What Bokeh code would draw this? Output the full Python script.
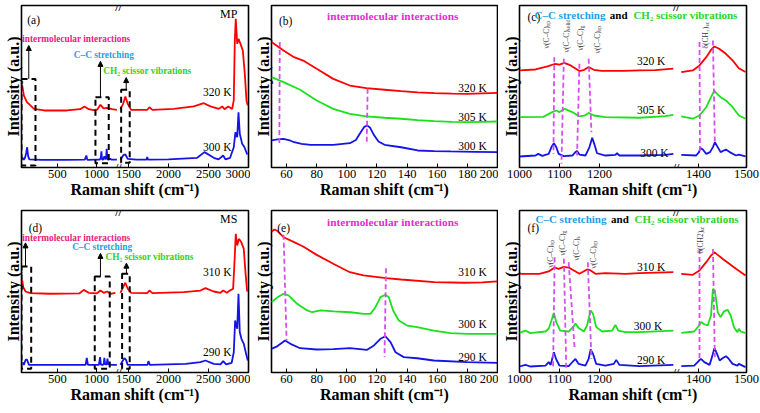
import numpy as np
from math import pi
from bokeh.plotting import figure
from bokeh.models import Range1d, FixedTicker, Label, Arrow, NormalHead
from bokeh.layouts import row, column
from bokeh.core.properties import value
from bokeh.embed import file_html
from bokeh.resources import INLINE

# ---------------- data (Raman shift in cm-1, intensity in a.u.) ----------------
# (a) MP full range
A_320_X = [50, 70, 110, 200, 330, 620, 790, 845, 900, 960, 1010, 1050, 1090, 1135, 1200, 1260,
           1400, 1434, 1462, 1491, 1534, 1734, 1762, 1800, 2066, 2316, 2441, 2525, 2629, 2671, 2700,
           2746, 2796, 2816, 2829, 2841, 2859, 2875, 2900, 2929, 2954, 2975, 2991]
A_320_Y = [50.6, 44.4, 40.3, 36.2, 35.2, 35.2, 36.0, 37.6, 36.0, 35.4, 35.8, 38.7, 36.5, 36.8, 36.0, 35.6,
           36.2, 39.3, 43.8, 39.3, 35.6, 35.6, 37.2, 35.6, 36.2, 37.7, 39.7, 37.7, 36.2, 37.7, 36.0,
           37.7, 36.2, 41.4, 78.4, 91.8, 76.3, 79.4, 76.3, 72.2, 57.8, 41.4, 38.3]
A_300_X = [50, 69, 85, 100, 112, 125, 140, 300, 600, 850, 870, 880, 890, 1000, 1040, 1055, 1062, 1070,
           1085, 1100, 1110, 1122, 1130, 1138, 1160, 1175, 1190, 1260,
           1400, 1434, 1448, 1462, 1491, 1600, 1725, 1735, 1745, 2000, 2359, 2450, 2566, 2625, 2684,
           2712, 2770, 2816, 2837, 2859, 2875, 2891, 2921, 2950, 2984]
A_300_Y = [6.2, 4.7, 6, 9, 12.5, 7, 5, 4.7, 4.7, 4.9, 7.4, 5, 4.7, 4.8, 4.8, 6, 10, 5,
           4.8, 7, 5, 6, 11.5, 5, 4.8, 5.5, 4.8, 4.8,
           4.7, 7.4, 8, 8, 5.3, 4.8, 4.8, 6.5, 4.8, 5, 6, 9.5, 6, 5, 7.4,
           5, 6, 12.5, 21.8, 18.7, 34.1, 20.8, 14.6, 12.5, 8]

# (b) MP low frequency
B_320_X = [50, 58, 65, 71, 80, 91, 102, 113, 125, 136, 147, 158, 170, 180, 190, 200]
B_320_Y = [77.4, 72.2, 68.1, 66, 60.9, 54.7, 50.6, 49, 48, 47.1, 46.4, 45.9, 45.6, 45.5, 45.8, 46.1]
B_305_X = [50, 58, 69, 80, 91, 102, 113, 125, 136, 147, 158, 170, 180, 190, 200]
B_305_Y = [55.8, 52.7, 48, 41.4, 36.2, 33.1, 31.5, 30.7, 30.1, 29.3, 28.6, 28.2, 28, 28.2, 28.4]
B_300_X = [50, 54, 58, 62, 65, 70, 76, 91, 102, 106, 109, 111.5, 113.5, 115.5, 118, 121, 125, 136,
           147, 158, 169, 185, 200]
B_300_Y = [16.7, 17.3, 17.7, 16.8, 15.6, 14.6, 14, 14, 15, 17, 21.5, 25, 26, 24.5, 20, 16, 14, 12.5,
           10.5, 10.1, 9.9, 9.7, 9.5]

# (c) MP 1000-1500 (lo = before the break, hi = after the break)
C_320_LO_X = [1000, 1040, 1070, 1088, 1100, 1112, 1128, 1150, 1162, 1173, 1186, 1205, 1260, 1300, 1340, 1385]
C_320_LO_Y = [59.9, 60.5, 62.4, 63.9, 63.5, 64.6, 63, 59.5, 60.3, 62, 60.3, 59.7, 59.7, 59.9, 60.1, 61]
C_320_HI_X = [1364, 1388, 1402, 1416, 1426, 1433, 1443, 1457, 1471, 1484, 1498]
C_320_HI_Y = [58.9, 59.9, 63, 68.1, 72.6, 74.7, 73.3, 70.2, 66.1, 61.3, 58.9]
C_305_LO_X = [1000, 1060, 1082, 1092, 1100, 1113, 1132, 1150, 1162, 1173, 1186, 1215, 1300, 1365, 1385]
C_305_LO_Y = [31.1, 31.3, 34.2, 35.2, 34.2, 36.2, 34.2, 31.5, 32, 33.7, 32.1, 31.1, 30.7, 31.7, 32.5]
C_305_HI_X = [1364, 1388, 1402, 1416, 1426, 1433, 1437, 1446, 1457, 1471, 1484, 1498]
C_305_HI_Y = [31.5, 30.1, 32.1, 37.2, 43.4, 47.5, 45.9, 43.4, 41.4, 37.2, 32.1, 30.1]
C_300_LO_X = [1000, 1040, 1047, 1057, 1073, 1080, 1086, 1092, 1098, 1111, 1132, 1140, 1144, 1150, 1165,
              1175, 1182, 1187, 1194, 1215, 1240, 1244, 1250, 1300, 1365, 1385]
C_300_LO_Y = [6.8, 7.4, 8.4, 7.2, 8.4, 12.6, 15, 12.6, 8.4, 7, 7.4, 9.5, 10.1, 8, 7.4,
              12.6, 18.3, 14.6, 8.8, 7.4, 7.8, 8.8, 7.4, 7.4, 7.8, 8.4]
C_300_HI_X = [1364, 1395, 1401, 1404, 1409, 1416, 1424, 1430, 1434, 1440, 1446, 1457, 1465, 1478, 1484, 1498]
C_300_HI_Y = [7.8, 7.4, 9.5, 12.1, 11.1, 8.4, 9.5, 12.6, 15.6, 12.6, 9.5, 11.1, 9.5, 7.4, 8, 6.8]

# (d) MS full range
D_310_X = [50, 62, 91, 155, 400, 780, 836, 900, 1000, 1050, 1092, 1135, 1177, 1241,
           1400, 1434, 1462, 1491, 1534, 1734, 1762, 1800, 2191, 2400, 2462, 2566, 2650, 2684, 2730,
           2760, 2808, 2829, 2841, 2859, 2880, 2909, 2941, 2962, 2983]
D_310_Y = [56.8, 52.7, 50, 49, 48.6, 48.8, 51, 49.2, 48.8, 50.6, 49.2, 50, 48.6, 49.2,
           49.2, 52.7, 55.4, 51.7, 49.2, 49, 50.6, 49, 49.6, 50.6, 52.1, 50, 49.2, 50.6, 49.2,
           50.4, 51.7, 72.2, 85.6, 78.4, 82.5, 80.5, 76.3, 62, 50]
D_290_X = [50, 69, 95, 110, 135, 400, 860, 875, 890, 1030, 1045, 1055, 1070, 1092, 1100, 1110, 1130,
           1140, 1150, 1200, 1260,
           1400, 1430, 1450, 1470, 1491, 1737, 1750, 1767, 2216, 2400, 2462, 2566, 2650, 2684, 2720,
           2790, 2816, 2833, 2846, 2859, 2875, 2891, 2912, 2941, 2970, 2991]
D_290_Y = [6.4, 4.7, 8, 8, 4.7, 4.7, 4.7, 9, 4.7, 4.7, 9.5, 5, 4.7, 5, 9, 5, 5,
           8.5, 5, 4.7, 4.7,
           4.7, 7.4, 8.8, 7.8, 4.7, 4.7, 7, 4.7, 5.3, 6.4, 7.4, 5.3, 5, 7, 5,
           6, 12.5, 32.1, 29, 27, 48.6, 24.9, 20.8, 17.7, 11.5, 7.4]

# (e) MS low frequency
E_310_X = [50, 52, 54, 58, 65, 71, 80, 91, 102, 111, 126, 136, 158, 178, 190, 200]
E_310_Y = [87, 88.3, 87.3, 83.5, 80.5, 77.8, 72.6, 67.1, 61.9, 59.9, 58.2, 57.4, 55.8, 55.4, 55.6, 56.2]
E_300_X = [50, 54, 58, 61.5, 67, 73.7, 77, 82.6, 91.4, 102.4, 111.3, 115.7, 119, 122.3, 125.6, 127.9,
           130.7, 134.5, 140, 146.7, 157.7, 168.8, 180, 200]
E_300_Y = [43.4, 46.5, 48.6, 47.5, 42.4, 38.3, 37.2, 38.3, 37.7, 37.2, 36.2, 36.2, 40.3, 46.5, 48, 46.5,
           38.3, 32.1, 29, 28, 25.9, 24.3, 23.9, 23.9]
E_290_X = [50, 54, 59, 62.6, 69, 80, 91, 102, 113.5, 118, 122.3, 125.6, 129, 132.3, 137.8, 146.7, 157.7, 180, 200]
E_290_Y = [14.6, 16.3, 19.8, 17.7, 15, 14.2, 14.4, 15, 14, 16.7, 20.8, 22.4, 18.7, 12.5, 9.5, 8.8, 7.4, 6.4, 6]

# (f) MS 1000-1500
F_310_LO_X = [1000, 1050, 1073, 1088, 1098, 1111, 1123, 1136, 1150, 1169, 1178, 1190, 1215, 1265, 1300, 1385]
F_310_LO_Y = [60.9, 60.9, 62.4, 64.8, 64, 65.2, 64.8, 63, 60.9, 63.6, 63, 60.9, 61.3, 60.9, 61.3, 61.9]
F_310_HI_X = [1364, 1388, 1402, 1416, 1426, 1433, 1440, 1450, 1464, 1478, 1498]
F_310_HI_Y = [60.9, 60.3, 63, 68.1, 72.2, 74.3, 72.6, 70.2, 67.1, 64, 59.9]
F_300_LO_X = [1000, 1015, 1027, 1065, 1073, 1080, 1086, 1092, 1102, 1123, 1136, 1140, 1148, 1161, 1169,
              1178, 1184, 1192, 1207, 1232, 1240, 1247, 1265, 1300, 1385]
F_300_LO_Y = [24.5, 25.9, 24.3, 25.3, 27, 32.1, 36.8, 31, 25.9, 25.3, 28.6, 30.2, 27.4, 25.3, 29,
              38.3, 36.2, 28, 25.3, 25.9, 29.4, 25.9, 24.9, 24.9, 25.9]
F_300_HI_X = [1364, 1391, 1401, 1405, 1412, 1419, 1426, 1430, 1434, 1440, 1446, 1453, 1461, 1467, 1474,
              1481, 1484, 1488, 1498]
F_300_HI_Y = [24.5, 25.3, 29, 31.1, 29.8, 29, 35.2, 51.6, 50.6, 37.2, 34.2, 37.7, 38.7, 35.2, 28,
              24.9, 27, 25.3, 24.3]
F_290_LO_X = [1000, 1015, 1027, 1065, 1073, 1078, 1086, 1092, 1100, 1123, 1136, 1140, 1148, 1165, 1173,
              1178, 1184, 1192, 1215, 1236, 1242, 1250, 1300, 1385]
F_290_LO_Y = [3.7, 4.7, 3.7, 4.3, 6.4, 4.7, 12.5, 8, 4.3, 3.9, 7.4, 8.4, 5.3, 4.3, 8.4,
              14.2, 11.5, 5.3, 4.3, 5.3, 7.8, 4.7, 3.9, 4.7]
F_290_HI_X = [1364, 1391, 1401, 1405, 1412, 1423, 1428, 1433, 1437, 1444, 1450, 1457, 1462, 1471, 1481, 1484, 1498]
F_290_HI_Y = [3.9, 4.3, 7.4, 8.4, 6.4, 4.7, 9.5, 15, 12.6, 7.4, 8.8, 10.1, 8.8, 5.3, 4.3, 5.3, 3.3]

# tick labels
FULL_TICKS = [500, 1000, 1500, 2000, 2500, 3000]
LOW_TICKS = [60, 80, 100, 120, 140, 160, 180, 200]
ZOOM_TICKS = [1000, 1100, 1200, 1400, 1500]

# marker lines (x0, y0, x1, y1)
B_MARKS = [(55.5, 77.4, 55.2, 14.6), (113.8, 48.6, 113.2, 14.2)]
E_MARKS = [(58, 85, 60, 19.8), (126, 64.4, 125, 9.5)]
C_MARKS = [(1087, 68.1, 1085, 8.4), (1111, 67.1, 1105, 2.3), (1150, 64, 1144, 7.4),
           (1173, 67.1, 1180, 21.8), (1402, 77.4, 1403, 9.5), (1430, 78.4, 1434, 15.6)]
F_MARKS = [(1088, 71.2, 1084, 3.3), (1111, 70.2, 1117, 2.3), (1123, 68.1, 1138, 14.6),
           (1171, 68.1, 1180, 8.4), (1402, 76.3, 1402, 7.4), (1430, 76.3, 1434, 9.5)]

# vibrational band labels (main, subscript, x, y)
C_BANDS = [("ν(C–C)", "op", 1067.5, 73.5), ("ν(C–C)", "solid", 1117.5, 71), ("ν(C–C)", "g", 1152.5, 72.2),
           ("ν(C–C)", "op", 1195, 70.4), ("δ(CH₂)", "sc", 1413.5, 73.5)]
F_BANDS = [("ν(C–C)", "op", 1077.5, 64.8), ("ν(C–C)", "g", 1107.5, 72.2), ("ν(C–C)", "s", 1142.5, 69.1),
           ("ν(C–C)", "op", 1185, 64.2), ("δ(CH2)", "sc", 1404, 73.5)]

# region boxes (left, right, bottom, top) and arrows (x, y0, y1) in panels (a),(d)
A_BOX_L, A_BOX_R, A_BOX_B, A_BOX_T = [40, 986, 1409], [219, 1156, 1516], [1.2, 2.7, 3], [54.7, 43.4, 48]
D_BOX_L, D_BOX_R, D_BOX_B, D_BOX_T = [40, 977, 1421], [164, 1169, 1516], [2.3, 2.3, 2.3], [65.4, 59.3, 60.9]
A_ARROWS = [(133, 54.7, 75.3), (1050, 43.4, 65.5), (1472, 48, 55.5)]
D_ARROWS = [(91, 65.4, 80.0), (1050, 59.3, 73.5), (1475, 60.9, 67.5)]

# ---------------- styles ----------------
RED, GREEN, BLUE = "#FF0000", "#1BE01B", "#1414E6"
MAG = "#D84CF2"
PINK = "#EC1A7E"
VIOLET = "#E52BD6"
SKY = "#1E9FE6"
LIME = "#2AD42A"
GRAY = "#3A3A3A"
SERIF = "Liberation Serif"
LW = 1.8


def u_full(x):
    x = np.asarray(x, dtype=float)
    return np.where(x <= 1300, x, 1280 + (x - 1375) * 1.024)


def u_hi(x):
    return 1400 + (np.asarray(x, dtype=float) - 1360) * 1.2


def u_zoom(x):
    x = np.asarray(x, dtype=float)
    return np.where(x >= 1390, 1400 + (x - 1360) * 1.2, x)


def u_id(x):
    return np.asarray(x, dtype=float)


def make_fig(w, h, xr, bb, rb, ticks, fmap):
    p = figure(width=w, height=h, x_range=Range1d(*xr), y_range=Range1d(0, 100),
               output_backend="svg", toolbar_location=None, title=None,
               min_border_left=21, min_border_right=rb, min_border_top=5, min_border_bottom=bb)
    p.xgrid.visible = False
    p.ygrid.visible = False
    p.background_fill_color = "white"
    p.border_fill_color = "white"
    p.outline_line_color = "black"
    p.outline_line_width = 1.6
    p.outline_line_alpha = 1.0
    p.xaxis.axis_label = "Raman shift (cm⁻¹)"
    p.yaxis.axis_label = "Intensity (a.u.)"
    for ax in (p.xaxis[0], p.yaxis[0]):
        ax.axis_label_text_font = SERIF
        ax.axis_label_text_font_style = "bold"
        ax.axis_label_text_font_size = "16px"
        ax.axis_label_text_color = "black"
        ax.axis_label_standoff = 0
        ax.axis_line_color = None
        ax.minor_tick_line_color = None
    p.yaxis.ticker = FixedTicker(ticks=[])
    p.yaxis.major_tick_line_color = None
    pos = [float(fmap(t)) for t in ticks]
    p.xaxis.ticker = FixedTicker(ticks=pos, minor_ticks=[])
    p.xaxis.major_label_overrides = {v: str(t) for v, t in zip(pos, ticks)}
    p.xaxis.major_label_text_font = SERIF
    p.xaxis.major_label_text_font_size = "12.5px"
    p.xaxis.major_label_text_color = "black"
    p.xaxis.major_label_standoff = 2
    p.xaxis.major_tick_in = 4
    p.xaxis.major_tick_out = 0
    p.xaxis.major_tick_line_color = "black"
    return p


def txt(p, x, y, s, size, color="black", style="normal", align="left", baseline="middle",
        angle=0.0, xo=0, yo=0):
    p.text(x=[float(x)], y=[float(y)], text=[s], text_font=value(SERIF),
           text_font_size=value(f"{size}px"), text_color=value(color),
           text_font_style=value(style), text_align=value(align), text_baseline=value(baseline),
           angle=angle, x_offset=xo, y_offset=yo)


def brk(p, u):
    for y in (98.8, 0.6):
        p.add_layout(Label(x=u, y=y, text="//", text_font=SERIF, text_font_size="11px",
                           text_font_style="bold", text_align="center", text_baseline="middle",
                           text_color="black"))


def full_panel(p, curves, box, arrows, notes, tag, sample, temps):
    for xs, ys, c in curves:
        xs = np.asarray(xs, float)
        ys = np.asarray(ys, float)
        lo = xs <= 1300
        p.line(u_full(xs[lo]), ys[lo], line_color=c, line_width=LW)
        p.line(u_full(xs[~lo]), ys[~lo], line_color=c, line_width=LW)
    L, R, B, T = box
    p.quad(left=u_full(L), right=u_full(R), bottom=B, top=T, fill_color=None,
           line_color="black", line_width=2, line_dash="6 4")
    for x, y0, y1 in arrows:
        ux = float(u_full(x))
        p.add_layout(Arrow(end=NormalHead(size=5, line_color="black", fill_color="black", line_width=1),
                           x_start=ux, y_start=y0, x_end=ux, y_end=y1,
                           line_width=1, line_color="black"))
    for x, y, s, c in notes:
        txt(p, float(u_full(x)), y, s, 9.3, color=c, style="bold")
    txt(p, *tag, 11.5)
    txt(p, float(u_full(sample[0])), sample[1], sample[2], 12, align="center")
    for x, y, s in temps:
        txt(p, float(u_full(x)), y, s, 11.5)
    brk(p, 1280)


def low_panel(p, curves, marks, tag, temps, title_y):
    for xs, ys, c in curves:
        p.line(xs, ys, line_color=c, line_width=LW)
    for x0, y0, x1, y1 in marks:
        p.segment(x0=[x0], y0=[y0], x1=[x1], y1=[y1], line_color=MAG, line_width=1.8, line_dash="5 3")
    txt(p, 130.5, title_y, "intermolecular interactions", 11.3, color=VIOLET, style="bold", align="center")
    txt(p, *tag, 11.5)
    for x, y, s in temps:
        txt(p, x, y, s, 11.5)


def zoom_panel(p, curves, marks, bands, tag, heads, temps):
    for lx, ly, hx, hy, c in curves:
        p.line(u_id(lx), ly, line_color=c, line_width=LW)
        p.line(u_hi(hx), hy, line_color=c, line_width=LW)
    for x0, y0, x1, y1 in marks:
        p.segment(x0=[float(u_zoom(x0))], y0=[y0], x1=[float(u_zoom(x1))], y1=[y1],
                  line_color=MAG, line_width=1.8, line_dash="5 3")
    for main, sub, x, y in bands:
        ux = float(u_zoom(x))
        txt(p, ux, y, main, 7.5, color=GRAY, angle=pi / 2)
        txt(p, ux, y, sub, 5.5, color=GRAY, angle=pi / 2, xo=2, yo=-22)
    txt(p, *tag, 11.5)
    for x, y, s, c in heads:
        txt(p, x, y, s, 11, color=c, style="bold")
    for x, y, s in temps:
        txt(p, x, y, s, 11.5)
    brk(p, 1392)


full_labels_x = (40, 2944)

pa = make_fig(250, 205, full_labels_x, 38, 2, FULL_TICKS, u_full)
full_panel(pa, [(A_320_X, A_320_Y, RED), (A_300_X, A_300_Y, BLUE)],
           (A_BOX_L, A_BOX_R, A_BOX_B, A_BOX_T), A_ARROWS,
           [(49, 79.4, "intermolecular interactions", PINK), (709, 69.5, "C–C stretching", SKY),
            (1085, 59.3, "CH₂ scissor vibrations", LIME)],
           (113, 90.8, "(a)"), (2753, 94.5, "MP"),
           [(2433, 46.5, "320 K"), (2433, 12.5, "300 K")])

pb = make_fig(248, 205, (50, 200), 38, 1, LOW_TICKS, u_id)
low_panel(pb, [(B_320_X, B_320_Y, RED), (B_305_X, B_305_Y, GREEN), (B_300_X, B_300_Y, BLUE)],
          B_MARKS, (54.9, 90.3, "(b)"),
          [(174, 49.2, "320 K"), (174, 31, "305 K"), (174, 13.2, "300 K")], 93.8)

pc = make_fig(262, 205, (1000, 1568), 38, 14, ZOOM_TICKS, u_zoom)
zoom_panel(pc, [(C_320_LO_X, C_320_LO_Y, C_320_HI_X, C_320_HI_Y, RED),
                (C_305_LO_X, C_305_LO_Y, C_305_HI_X, C_305_HI_Y, GREEN),
                (C_300_LO_X, C_300_LO_Y, C_300_HI_X, C_300_HI_Y, BLUE)],
           C_MARKS, C_BANDS, (1020, 92.8, "(c)"),
           [(1037.5, 94.3, "C–C stretching", SKY), (1226, 94.3, "and", "black"),
            (1285, 94.3, "CH₂ scissor vibrations", LIME)],
           [(1294, 66, "320 K"), (1294, 35.2, "305 K"), (1302, 8.8, "300 K")])

pd = make_fig(250, 208, full_labels_x, 41, 2, FULL_TICKS, u_full)
full_panel(pd, [(D_310_X, D_310_Y, RED), (D_290_X, D_290_Y, BLUE)],
           (D_BOX_L, D_BOX_R, D_BOX_B, D_BOX_T), D_ARROWS,
           [(49, 83.1, "intermolecular interactions", PINK), (688, 77.4, "C–C stretching", SKY),
            (1114, 71.2, "CH₂ scissor vibrations", LIME)],
           (133, 89.1, "(d)"), (2753, 94.5, "MS"),
           [(2433, 61.9, "310 K"), (2433, 12.5, "290 K")])

pe = make_fig(248, 208, (50, 200), 41, 1, LOW_TICKS, u_id)
low_panel(pe, [(E_310_X, E_310_Y, RED), (E_300_X, E_300_Y, GREEN), (E_290_X, E_290_Y, BLUE)],
          E_MARKS, (53.8, 89.1, "(e)"),
          [(174, 62, "310 K"), (174, 30, "300 K"), (174, 9.5, "290 K")], 93.2)

pf = make_fig(262, 208, (1000, 1568), 41, 14, ZOOM_TICKS, u_zoom)
zoom_panel(pf, [(F_310_LO_X, F_310_LO_Y, F_310_HI_X, F_310_HI_Y, RED),
                (F_300_LO_X, F_300_LO_Y, F_300_HI_X, F_300_HI_Y, GREEN),
                (F_290_LO_X, F_290_LO_Y, F_290_HI_X, F_290_HI_Y, BLUE)],
           F_MARKS, F_BANDS, (1020, 89, "(f)"),
           [(1040, 94.8, "C–C stretching", SKY), (1229, 94.8, "and", "black"),
            (1288, 94.8, "CH₂ scissor vibrations", LIME)],
           [(1294, 65.4, "310 K"), (1286, 29, "300 K"), (1294, 8, "290 K")])

layout = column(row(pa, pb, pc), row(pd, pe, pf))
open("out.html", "w").write(file_html(layout, INLINE))
